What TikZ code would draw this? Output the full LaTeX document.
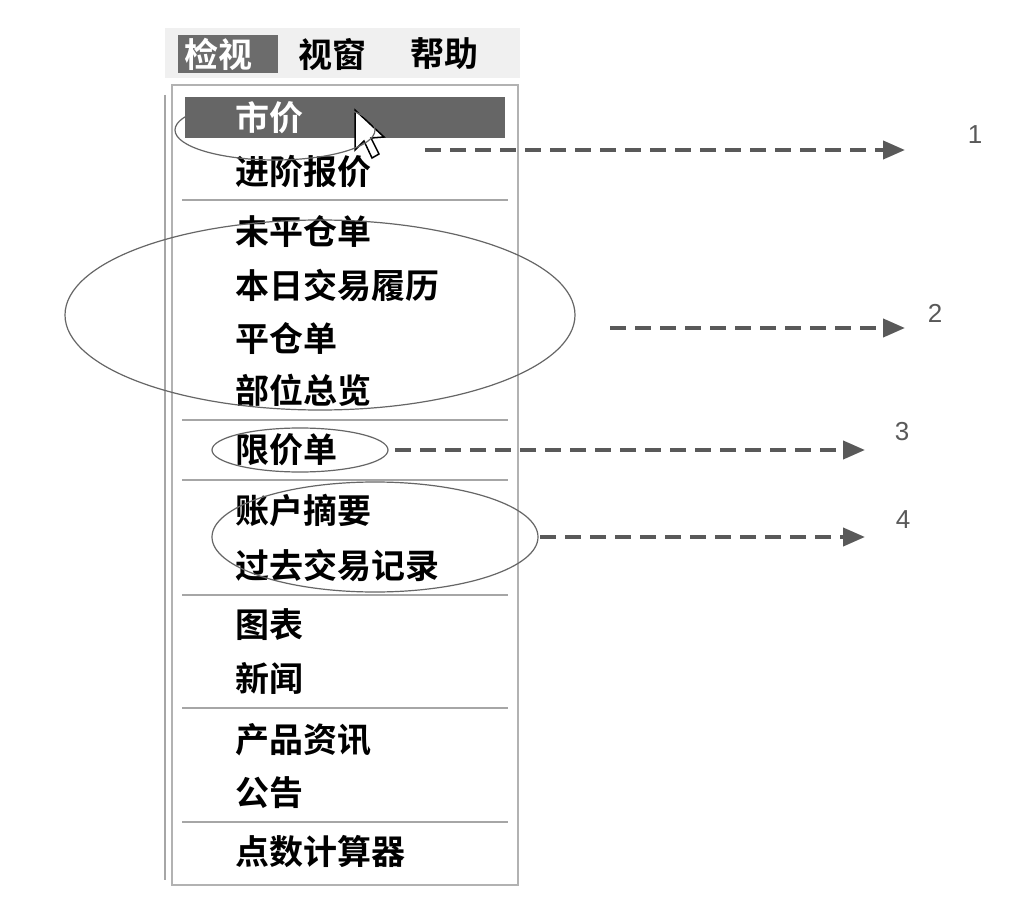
\documentclass[tikz,border=0pt]{standalone}
\usepackage{fontspec}
\newfontfamily\cjk{Noto Sans CJK SC Bold}
\setmainfont{Liberation Sans}
\usetikzlibrary{arrows.meta}
\tikzset{
  item/.style={anchor=west,inner sep=0pt,font=\cjk\fontsize{34}{36}\selectfont},
  sepline/.style={draw=gray!70,line width=2pt},
  ring/.style={draw=gray!80!black,line width=1.2pt},
  pointer/.style={draw=gray!70!black,line width=4pt,dash pattern=on 16pt off 9pt,-{Triangle[length=22pt,width=18pt]}},
  num/.style={font=\fontsize{26}{28}\selectfont,text=gray!70!black}
}
\begin{document}
\begin{tikzpicture}[x=1pt,y=-1pt]
\useasboundingbox[fill=white] (0,0) rectangle (1017,917);
% menu bar
\fill[gray!12] (165,28) rectangle (520,78);
\fill[gray!85!black] (178,35) rectangle (278,73);
\node[item,text=white] (view) at (184,54) {检视};
\node[item] (win) at (298,54) {视窗};
\node[item] (help) at (410,54) {帮助};
% menu panel
\draw[gray!60,line width=1.5pt] (172,85) rectangle (518,885);
\draw[gray!70,line width=2pt] (165,95) -- (165,880);
\fill[gray!80!black] (185,97) rectangle (505,138);
\node[item,text=white] (price) at (235,118) {市价};
\node[item] (adv) at (235,172) {进阶报价};
\node[item] (open) at (235,232) {未平仓单};
\node[item] (today) at (235,285) {本日交易履历};
\node[item] (closed) at (235,338) {平仓单};
\node[item] (pos) at (235,390) {部位总览};
\node[item] (limit) at (235,450) {限价单};
\node[item] (acct) at (235,510) {账户摘要};
\node[item] (hist) at (235,565) {过去交易记录};
\node[item] (chart) at (235,625) {图表};
\node[item] (news) at (235,678) {新闻};
\node[item] (prod) at (235,740) {产品资讯};
\node[item] (notice) at (235,793) {公告};
\node[item] (calc) at (235,852) {点数计算器};
\foreach \y in {200,420,480,595,708,822}
  \draw[sepline] (182,\y) -- (508,\y);
% cursor
\draw[fill=white,line width=1.5pt] (355,110) -- (355,150) -- (364,141) -- (372,158) -- (379,154) -- (371,138) -- (384,137) -- cycle;
% rings
\draw[ring] (275,130) ellipse (100 and 30);
\draw[ring] (320,315) ellipse (255 and 95);
\draw[ring] (300,450) ellipse (88 and 22);
\draw[ring] (375,537) ellipse (163 and 55);
% arrows and numbers
\coordinate (s1) at (425,150); \coordinate (e1) at (905,150);
\coordinate (s2) at (610,328); \coordinate (e2) at (905,328);
\coordinate (s3) at (395,450); \coordinate (e3) at (865,450);
\coordinate (s4) at (540,537); \coordinate (e4) at (865,537);
\draw[pointer] (s1) -- (e1);
\draw[pointer] (s2) -- (e2);
\draw[pointer] (s3) -- (e3);
\draw[pointer] (s4) -- (e4);
\node[num] (n1) at (975,135) {1};
\node[num] (n2) at (935,313) {2};
\node[num] (n3) at (902,432) {3};
\node[num] (n4) at (903,520) {4};
\end{tikzpicture}
\end{document}
